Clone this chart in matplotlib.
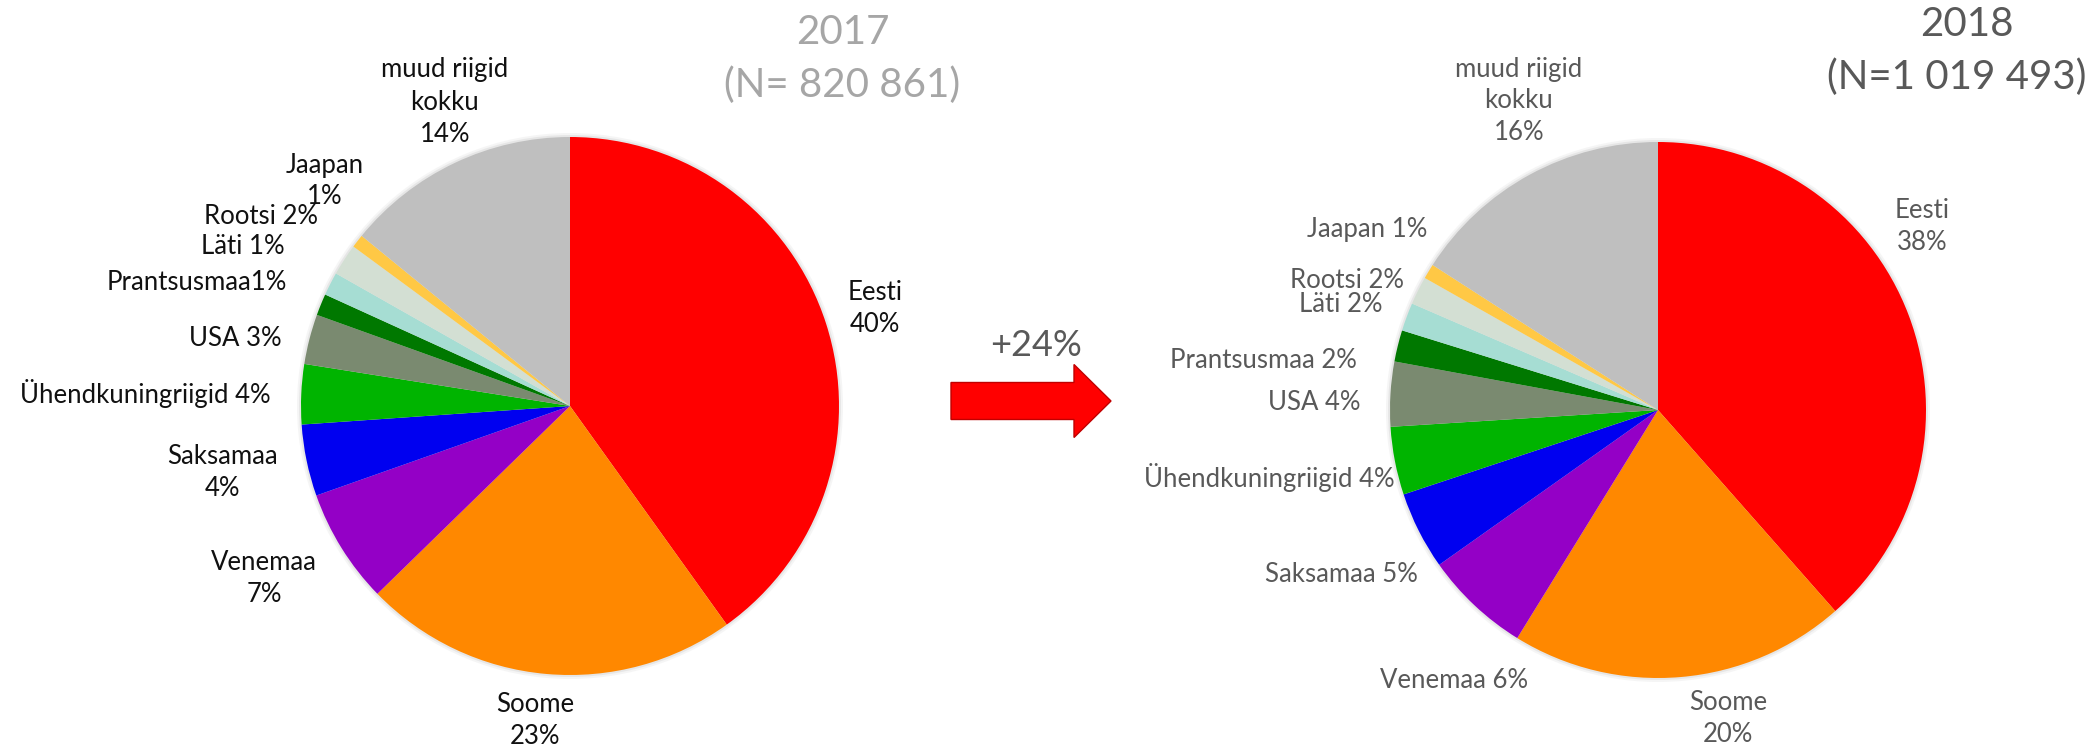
import matplotlib
matplotlib.use("Agg")
import matplotlib.pyplot as plt
from matplotlib.patches import FancyArrow, Circle

plt.rcParams['font.family'] = ['Lato', 'DejaVu Sans']

# data
countries = ["Eesti", "Soome", "Venemaa", "Saksamaa", "Ühendkuningriigid", "USA",
             "Prantsusmaa", "Läti", "Rootsi", "Jaapan", "muud riigid kokku"]
share_2017 = [40.1, 22.6, 6.9, 4.3, 3.6, 3.0, 1.3, 1.4, 1.9, 0.8, 14.1]
share_2018 = [38.5, 20.3, 6.4, 4.7, 4.1, 3.9, 1.9, 1.7, 1.7, 0.9, 15.9]
labels_2017 = ["Eesti\n40%", "Soome\n23%", "Venemaa\n7%", "Saksamaa\n4%",
               "Ühendkuningriigid 4%", "USA 3%", "Prantsusmaa1%", "Läti 1%",
               "Rootsi 2%", "Jaapan\n1%", "muud riigid\nkokku\n14%"]
labels_2018 = ["Eesti\n38%", "Soome\n20%", "Venemaa 6%", "Saksamaa 5%",
               "Ühendkuningriigid 4%", "USA 4%", "Prantsusmaa 2%", "Läti 2%",
               "Rootsi 2%", "Jaapan 1%", "muud riigid\nkokku\n16%"]
title_2017 = ["2017", "(N= 820 861)"]
title_2018 = ["2018", "(N=1 019 493)"]
growth = "+24%"

colors = ["#FF0000", "#FF8800", "#9400C6", "#0000F0", "#00B400", "#7A8A70",
          "#007800", "#A6DDD3", "#D3DFD3", "#FFC845", "#BFBFBF"]

# label positions in pixels (x, y from top)
pos_2017 = [(875, 308), (535, 721), (264, 578), (222, 473), (145, 394), (235, 338),
            (197, 283), (243, 247), (261, 217), (325, 181), (445, 102)]
pos_2018 = [(1922, 227), (1728, 719), (1454, 681), (1341, 575), (1269, 478), (1314, 403),
            (1263, 360), (1341, 305), (1347, 281), (1367, 230), (1519, 101)]

W, H = 2089, 752
fig = plt.figure(figsize=(W / 100, H / 100), dpi=100)
ax = fig.add_axes([0, 0, 1, 1])

def draw_pie(vals, cx, cy, r, labels, pos, tcol):
    # soft halo around the pie
    for k, a in [(4, 0.25), (2, 0.5)]:
        ax.add_patch(Circle((cx, H - cy), r + k, color="#d9d9d9", alpha=a,
                            linewidth=0, zorder=0))
    ax.pie(vals, colors=colors, startangle=90, counterclock=False,
           center=(cx, H - cy), radius=r, frame=True,
           wedgeprops=dict(linewidth=0))
    for lab, (x, y) in zip(labels, pos):
        ax.text(x, H - y, lab, ha='center', va='center', fontsize=18.5,
                color=tcol, linespacing=1.35)

draw_pie(share_2017, 570, 406, 269, labels_2017, pos_2017, "#111111")
draw_pie(share_2018, 1658, 410, 268, labels_2018, pos_2018, "#595959")
ax.set_xlim(0, W)
ax.set_ylim(0, H)
ax.set_aspect('equal')
ax.axis('off')

ax.text(843, H - 32, title_2017[0], ha='center', va='center', fontsize=29, color="#A6A6A6")
ax.text(842, H - 85, title_2017[1], ha='center', va='center', fontsize=29, color="#A6A6A6")
ax.text(1967, H - 24, title_2018[0], ha='center', va='center', fontsize=29, color="#595959")
ax.text(1957, H - 77, title_2018[1], ha='center', va='center', fontsize=29, color="#595959")

ax.text(1036, H - 345, growth, ha='center', va='center', fontsize=26, color="#595959")
ax.add_patch(FancyArrow(951, H - 401, 160, 0, width=37, head_width=73,
                        head_length=37, length_includes_head=True,
                        facecolor="#FF0000", edgecolor="#C00000", linewidth=1))

fig.savefig("out.png", dpi=100)
